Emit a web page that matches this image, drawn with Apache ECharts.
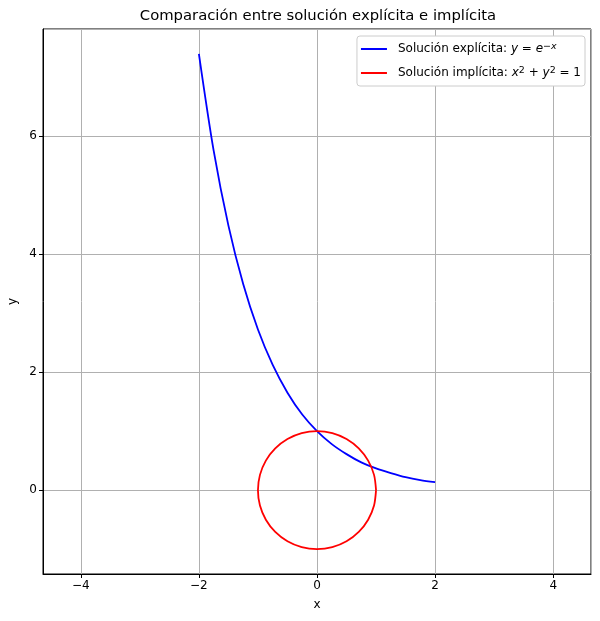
<!DOCTYPE html>
<html>
<head>
<meta charset="utf-8">
<script src="https://cdn.jsdelivr.net/npm/echarts@6/dist/echarts.min.js"></script>
<style>
  html, body { margin: 0; padding: 0; background: #fff; }
  #chart { width: 600px; height: 621px; }
</style>
</head>
<body>
<div id="chart"></div>
<script>
// curva explícita y = e^-x
var explicitX = [-2, -1.75, -1.5, -1.25, -1, -0.75, -0.5, -0.25, 0, 0.25, 0.5, 0.75, 1, 1.25, 1.5, 1.75, 2];
var explicitY = [7.39, 5.75, 4.48, 3.49, 2.72, 2.12, 1.65, 1.28, 1.0, 0.78, 0.61, 0.47, 0.37, 0.29, 0.22, 0.17, 0.135];

// círculo unitario x^2 + y^2 = 1
var circleX = [1, 0.966, 0.866, 0.707, 0.5, 0.259, 0, -0.259, -0.5, -0.707, -0.866, -0.966, -1,
               -0.966, -0.866, -0.707, -0.5, -0.259, 0, 0.259, 0.5, 0.707, 0.866, 0.966, 1];
var circleY = [0, 0.259, 0.5, 0.707, 0.866, 0.966, 1, 0.966, 0.866, 0.707, 0.5, 0.259, 0,
               -0.259, -0.5, -0.707, -0.866, -0.966, -1, -0.966, -0.866, -0.707, -0.5, -0.259, 0];

var xRange = [-4.64, 4.64];
var yRange = [-1.42, 7.81];

var seriesNames = ['explicita', 'implicita'];

function pairs(xs, ys) {
    return xs.map(function (x, i) { return [x, ys[i]]; });
}
function fmt(v) {
    return String(v).replace('-', '\u2212');
}

var myChart = echarts.init(document.getElementById('chart'));
var font = 'DejaVu Sans';

var option = {
    animation: false,
    textStyle: { fontFamily: font },
    graphic: [{
        type: 'text',
        x: 318, y: 16,
        style: {
            text: 'Comparación entre solución explícita e implícita',
            align: 'center', verticalAlign: 'middle',
            font: '14.8px "DejaVu Sans"', fill: '#000'
        }
    }],
    grid: {
        left: 43, right: 9, top: 29, bottom: 47,
        containLabel: false,
        outerBoundsMode: 'none',
        show: true, borderColor: '#000', borderWidth: 1
    },
    legend: {
        orient: 'vertical',
        right: 15, top: 36,
        padding: [6, 4, 6, 4],
        itemGap: 10,
        itemWidth: 26, itemHeight: 2,
        icon: 'rect',
        backgroundColor: '#fff',
        borderColor: '#cccccc', borderWidth: 1, borderRadius: 3,
        textStyle: {
            fontFamily: font, fontSize: 12, color: '#000', lineHeight: 14,
            rich: {
                g: { width: 6 },
                t: { fontFamily: font, fontSize: 12 },
                it: { fontFamily: font, fontStyle: 'italic', fontSize: 12 },
                n: { fontFamily: font, fontSize: 12 },
                sup: { fontFamily: font, fontStyle: 'italic', fontSize: 9.5, verticalAlign: 'top', padding: [0, 0, 6, 0] },
                supn: { fontFamily: font, fontSize: 9.5, verticalAlign: 'top', padding: [0, 0, 6, 0] }
            }
        },
        formatter: function (name) {
            if (name === 'explicita') {
                return '{g| }{t|Solución explícita: }{it|y}{n| = }{it|e}{supn|\u2212}{sup|x}';
            }
            return '{g| }{t|Solución implícita: }{it|x}{supn|2}{n| + }{it|y}{supn|2}{n| = 1}';
        },
        data: seriesNames
    },
    xAxis: {
        type: 'value',
        min: xRange[0], max: xRange[1],
        splitNumber: 4,
        name: 'x',
        nameLocation: 'middle', nameGap: 25,
        nameTextStyle: { fontFamily: font, fontSize: 12, color: '#000' },
        axisLine: { show: true, onZero: false, lineStyle: { color: '#000', width: 1 } },
        axisTick: { show: true, inside: false, length: 4, lineStyle: { color: '#000' } },
        axisLabel: {
            showMinLabel: false, showMaxLabel: false,
            margin: 6, fontFamily: font, fontSize: 12, color: '#000',
            formatter: fmt
        },
        splitLine: { show: true, lineStyle: { color: '#b0b0b0', width: 1 } }
    },
    yAxis: {
        type: 'value',
        min: yRange[0], max: yRange[1],
        splitNumber: 5,
        name: 'y',
        nameLocation: 'middle', nameGap: 22,
        nameTextStyle: { fontFamily: font, fontSize: 12, color: '#000' },
        axisLine: { show: true, onZero: false, lineStyle: { color: '#000', width: 1 } },
        axisTick: { show: true, inside: false, length: 4, lineStyle: { color: '#000' } },
        axisLabel: {
            showMinLabel: false, showMaxLabel: false,
            margin: 6, fontFamily: font, fontSize: 12, color: '#000',
            formatter: fmt
        },
        splitLine: { show: true, lineStyle: { color: '#b0b0b0', width: 1 } }
    },
    series: [
        {
            name: 'explicita',
            type: 'line',
            data: pairs(explicitX, explicitY),
            showSymbol: false,
            smooth: 0.3,
            color: '#0000ff',
            lineStyle: { color: '#0000ff', width: 1.8 }
        },
        {
            name: 'implicita',
            type: 'line',
            data: pairs(circleX, circleY),
            showSymbol: false,
            smooth: 0.3,
            color: '#ff0000',
            lineStyle: { color: '#ff0000', width: 1.8 }
        }
    ]
};

myChart.setOption(option);
</script>
</body>
</html>
